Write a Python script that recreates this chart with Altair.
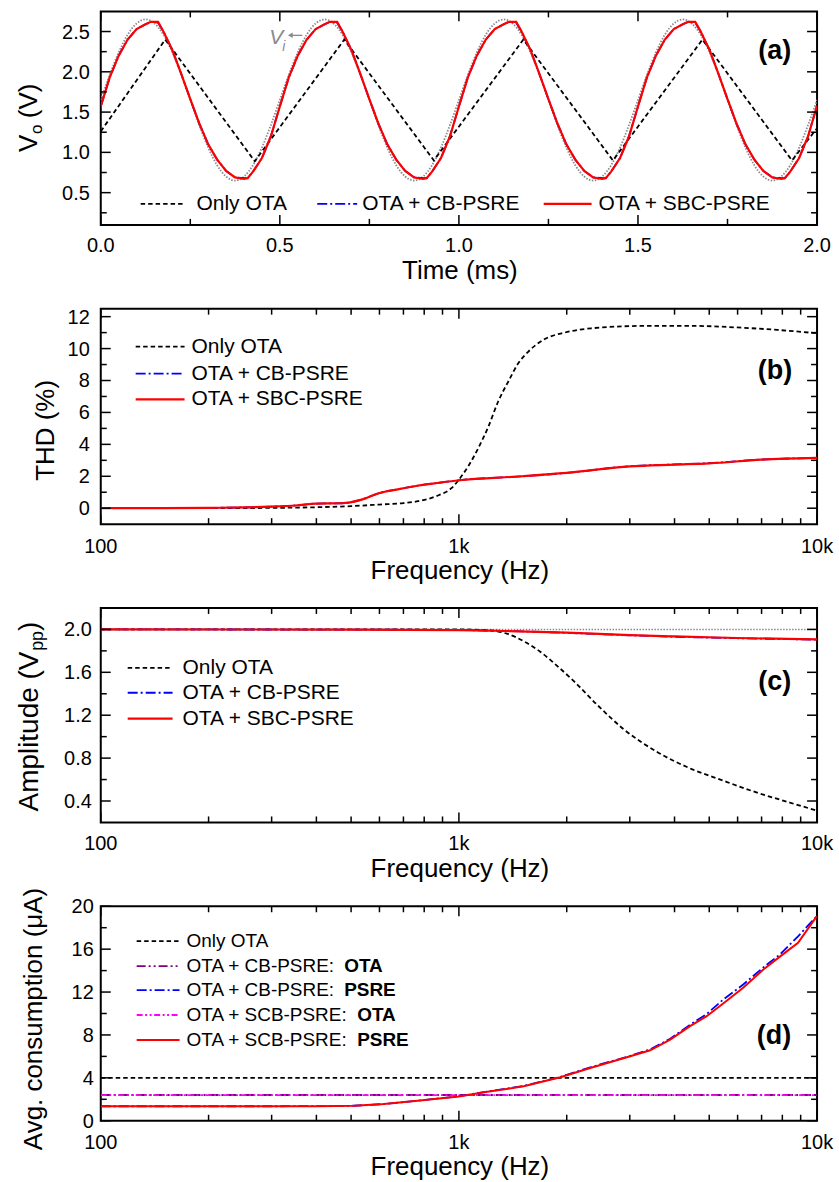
import altair as alt
import pandas as pd

FONT = "Liberation Sans"
W = 718
HA, HB, HC, HD = 214, 216, 215, 215

# ---------------- panel (a): transient, time in ms ----------------
vi_t = [0.000, 0.025, 0.050, 0.075, 0.100, 0.125, 0.150, 0.175, 0.200, 0.225,
        0.250, 0.275, 0.300, 0.325, 0.350, 0.375, 0.400, 0.425, 0.450, 0.475,
        0.500, 0.525, 0.550, 0.575, 0.600, 0.625, 0.650, 0.675, 0.700, 0.725,
        0.750, 0.775, 0.800, 0.825, 0.850, 0.875, 0.900, 0.925, 0.950, 0.975,
        1.000, 1.025, 1.050, 1.075, 1.100, 1.125, 1.150, 1.175, 1.200, 1.225,
        1.250, 1.275, 1.300, 1.325, 1.350, 1.375, 1.400, 1.425, 1.450, 1.475,
        1.500, 1.525, 1.550, 1.575, 1.600, 1.625, 1.650, 1.675, 1.700, 1.725,
        1.750, 1.775, 1.800, 1.825, 1.850, 1.875, 1.900, 1.925, 1.950, 1.975,
        2.000]
vi_v = [1.65, 1.96, 2.24, 2.46, 2.60, 2.65, 2.60, 2.46, 2.24, 1.96,
        1.65, 1.34, 1.06, 0.84, 0.70, 0.65, 0.70, 0.84, 1.06, 1.34,
        1.65, 1.96, 2.24, 2.46, 2.60, 2.65, 2.60, 2.46, 2.24, 1.96,
        1.65, 1.34, 1.06, 0.84, 0.70, 0.65, 0.70, 0.84, 1.06, 1.34,
        1.65, 1.96, 2.24, 2.46, 2.60, 2.65, 2.60, 2.46, 2.24, 1.96,
        1.65, 1.34, 1.06, 0.84, 0.70, 0.65, 0.70, 0.84, 1.06, 1.34,
        1.65, 1.96, 2.24, 2.46, 2.60, 2.65, 2.60, 2.46, 2.24, 1.96,
        1.65, 1.34, 1.06, 0.84, 0.70, 0.65, 0.70, 0.84, 1.06, 1.34,
        1.65]

ota_a_t = [0.00, 0.18, 0.43, 0.68, 0.93, 1.18, 1.43, 1.68, 1.93, 2.00]
ota_a_v = [1.26, 2.40, 0.89, 2.40, 0.90, 2.40, 0.90, 2.40, 0.90, 1.30]

sbc_a_t = [0.000, 0.025, 0.050, 0.075, 0.100, 0.125, 0.140, 0.160, 0.175, 0.200, 0.225,
           0.250, 0.275, 0.300, 0.325, 0.350, 0.375, 0.400, 0.410, 0.425, 0.450, 0.475,
           0.500, 0.525, 0.550, 0.575, 0.600, 0.625, 0.640, 0.660, 0.675, 0.700, 0.725,
           0.750, 0.775, 0.800, 0.825, 0.850, 0.875, 0.900, 0.910, 0.925, 0.950, 0.975,
           1.000, 1.025, 1.050, 1.075, 1.100, 1.125, 1.140, 1.160, 1.175, 1.200, 1.225,
           1.250, 1.275, 1.300, 1.325, 1.350, 1.375, 1.400, 1.410, 1.425, 1.450, 1.475,
           1.500, 1.525, 1.550, 1.575, 1.600, 1.625, 1.640, 1.660, 1.675, 1.700, 1.725,
           1.750, 1.775, 1.800, 1.825, 1.850, 1.875, 1.900, 1.910, 1.925, 1.950, 1.975,
           2.000]
sbc_a_v = [1.57, 1.93, 2.20, 2.40, 2.53, 2.59, 2.62, 2.62, 2.50, 2.27, 1.97,
           1.66, 1.36, 1.10, 0.91, 0.77, 0.69, 0.67, 0.68, 0.76, 0.93, 1.20,
           1.57, 1.93, 2.20, 2.40, 2.53, 2.59, 2.62, 2.62, 2.50, 2.27, 1.97,
           1.66, 1.36, 1.10, 0.91, 0.77, 0.69, 0.67, 0.68, 0.76, 0.93, 1.20,
           1.57, 1.93, 2.20, 2.40, 2.53, 2.59, 2.62, 2.62, 2.50, 2.27, 1.97,
           1.66, 1.36, 1.10, 0.91, 0.77, 0.69, 0.67, 0.68, 0.76, 0.93, 1.20,
           1.57, 1.93, 2.20, 2.40, 2.53, 2.59, 2.62, 2.62, 2.50, 2.27, 1.97,
           1.66, 1.36, 1.10, 0.91, 0.77, 0.69, 0.67, 0.68, 0.76, 0.93, 1.20,
           1.58]
cb_a_t = sbc_a_t
cb_a_v = [1.57, 1.93, 2.20, 2.40, 2.53, 2.59, 2.62, 2.61, 2.50, 2.27, 1.97,
          1.66, 1.36, 1.10, 0.91, 0.77, 0.69, 0.68, 0.68, 0.76, 0.93, 1.20,
          1.57, 1.93, 2.20, 2.40, 2.53, 2.59, 2.62, 2.61, 2.50, 2.27, 1.97,
          1.66, 1.36, 1.10, 0.91, 0.77, 0.69, 0.68, 0.68, 0.76, 0.93, 1.20,
          1.57, 1.93, 2.20, 2.40, 2.53, 2.59, 2.62, 2.61, 2.50, 2.27, 1.97,
          1.66, 1.36, 1.10, 0.91, 0.77, 0.69, 0.68, 0.68, 0.76, 0.93, 1.20,
          1.57, 1.93, 2.20, 2.40, 2.53, 2.59, 2.62, 2.61, 2.50, 2.27, 1.97,
          1.66, 1.36, 1.10, 0.91, 0.77, 0.69, 0.68, 0.68, 0.76, 0.93, 1.20,
          1.58]

# ---------------- panel (b): THD (%) vs frequency ----------------
ota_b_f = [100, 200, 300, 400, 500, 600, 700, 770, 877, 955, 1000, 1062, 1133, 1208,
           1288, 1374, 1465, 1561, 1738, 1974, 2339, 3294, 4540, 6252, 7742, 10000]
ota_b_thd = [0.0, 0.0, 0.02, 0.06, 0.13, 0.23, 0.32, 0.44, 0.81, 1.27, 1.79, 2.63, 3.77, 5.1,
             6.7, 7.94, 9.08, 9.8, 10.6, 11.0, 11.27, 11.42, 11.42, 11.3, 11.17, 10.96]
psre_b_f = [100, 150, 200, 250, 300, 350, 400, 470, 532, 597, 680, 771, 870, 1000,
            1500, 2000, 3000, 4000, 5000, 7000, 10000]
sbc_b_thd = [0.0, 0.0, 0.02, 0.05, 0.1, 0.17, 0.29, 0.31, 0.52, 0.94, 1.2, 1.42, 1.58, 1.75,
             2.0, 2.21, 2.62, 2.73, 2.81, 3.04, 3.15]
cb_b_thd = [0.0, 0.0, 0.02, 0.05, 0.1, 0.17, 0.29, 0.31, 0.52, 0.94, 1.2, 1.42, 1.58, 1.75,
            2.0, 2.21, 2.63, 2.74, 2.82, 3.05, 3.15]

# ---------------- panel (c): amplitude (Vpp) vs frequency ----------------
ref_c_f = [100, 10000]
ref_c_amp = [2.0, 2.0]
ota_c_f = [100, 500, 1000, 1225, 1361, 1517, 1690, 1880, 2090, 2427, 2883, 3566,
           4415, 5465, 6773, 8394, 10000]
ota_c_amp = [2.0, 2.0, 2.0, 1.99, 1.96, 1.89, 1.79, 1.66, 1.52, 1.30, 1.07, 0.86,
             0.705, 0.59, 0.48, 0.385, 0.31]
psre_c_f = [100, 500, 1000, 1365, 2000, 3006, 3971, 5957, 10000]
sbc_c_amp = [2.0, 1.998, 1.994, 1.985, 1.97, 1.947, 1.935, 1.92, 1.907]
cb_c_amp = [2.0, 1.998, 1.994, 1.985, 1.968, 1.945, 1.932, 1.918, 1.905]

# ---------------- panel (d): avg. consumption (uA) vs frequency ----------------
flat_d_f = [100, 10000]
ota_d_i = [4.0, 4.0]
cb_ota_d_i = [2.4, 2.4]
scb_ota_d_i = [2.38, 2.38]
psre_d_f = [100, 200, 300, 400, 510, 618, 766, 1000, 1175, 1517, 1919, 2327, 3009,
            3420, 3890, 4420, 4918, 5470, 6220, 7080, 7875, 8850, 10000]
scb_psre_d_i = [1.35, 1.35, 1.35, 1.36, 1.4, 1.56, 1.87, 2.27, 2.65, 3.21, 4.05, 4.92, 6.01,
                6.57, 7.57, 8.82, 9.75, 10.93, 12.4, 14.1, 15.3, 16.6, 19.1]
cb_psre_d_i = [1.35, 1.35, 1.35, 1.36, 1.4, 1.56, 1.87, 2.28, 2.67, 3.25, 4.08, 4.98, 6.05,
               6.65, 7.65, 8.95, 9.95, 11.3, 12.7, 14.3, 15.5, 17.2, 19.1]

# ---------------- ticks and tick labels ----------------
a_x_major = [0, 0.5, 1.0, 1.5, 2.0]
a_x_labels = ["0.0", "0.5", "1.0", "1.5", "2.0"]
a_x_minor = [0.25, 0.75, 1.25, 1.75]
a_y_major = [0.5, 1.0, 1.5, 2.0, 2.5]
a_y_labels = ["0.5", "1.0", "1.5", "2.0", "2.5"]
a_y_minor = [0.25, 0.75, 1.25, 1.75, 2.25]
log_major = [100, 1000, 10000]
log_labels = ["100", "1k", "10k"]
log_minor = [200, 300, 400, 500, 600, 700, 800, 900,
             2000, 3000, 4000, 5000, 6000, 7000, 8000, 9000]
b_y_major = [0, 2, 4, 6, 8, 10, 12]
b_y_labels = ["0", "2", "4", "6", "8", "10", "12"]
b_y_minor = [1, 3, 5, 7, 9, 11]
c_y_major = [0.4, 0.8, 1.2, 1.6, 2.0]
c_y_labels = ["0.4", "0.8", "1.2", "1.6", "2.0"]
c_y_minor = [0.6, 1.0, 1.4, 1.8]
d_y_major = [0, 4, 8, 12, 16, 20]
d_y_labels = ["0", "4", "8", "12", "16", "20"]
d_y_minor = [2, 6, 10, 14, 18]

BLACK, BLUE, RED = "#000000", "#0000ff", "#ff0000"
PURPLE, MAGENTA, GRAY = "#800080", "#ff00ff", "#8a8a8a"
DASH = [4.5, 3]
DASHDOT = [10, 3, 2, 3]
DASHDOTDOT = [9, 3, 2, 3, 2, 3]
DASHDOTDOT2 = [6, 2.5, 2, 2.5, 2, 2.5]
DOT = [1.5, 1.5]

MAJ, MIN = 10, 6
LABEL_SIZE = 20


def line(xv, yv, xs, ys, color, width, dash=None, interp="linear"):
    df = pd.DataFrame({"x": xv, "y": yv})
    kw = dict(color=color, strokeWidth=width, interpolate=interp, clip=True)
    if dash is not None:
        kw["strokeDash"] = dash
    return alt.Chart(df).mark_line(**kw).encode(
        x=alt.X("x:Q", scale=xs, axis=None),
        y=alt.Y("y:Q", scale=ys, axis=None))


def xticks(vals, xs, H, L):
    base = alt.Chart(pd.DataFrame({"x": vals})).mark_rule(color="black", strokeWidth=1.5)
    xe = alt.X("x:Q", scale=xs, axis=None)
    return [base.encode(x=xe, y=alt.value(H), y2=alt.value(H - L)),
            base.encode(x=xe, y=alt.value(0), y2=alt.value(L))]


def yticks(vals, ys, L):
    base = alt.Chart(pd.DataFrame({"y": vals})).mark_rule(color="black", strokeWidth=1.5)
    ye = alt.Y("y:Q", scale=ys, axis=None)
    return [base.encode(y=ye, x=alt.value(0), x2=alt.value(L)),
            base.encode(y=ye, x=alt.value(W), x2=alt.value(W - L))]


def xlabels(vals, labs, xs, ypos):
    df = pd.DataFrame({"x": vals, "lab": labs})
    return alt.Chart(df).mark_text(font=FONT, fontSize=LABEL_SIZE, align="center",
                                   baseline="alphabetic", color="black").encode(
        x=alt.X("x:Q", scale=xs, axis=None), y=alt.value(ypos), text="lab:N")


def ylabels(vals, labs, ys, xpos):
    df = pd.DataFrame({"y": vals, "lab": labs})
    return alt.Chart(df).mark_text(font=FONT, fontSize=LABEL_SIZE, align="right",
                                   baseline="alphabetic", dy=7, color="black").encode(
        y=alt.Y("y:Q", scale=ys, axis=None), x=alt.value(xpos), text="lab:N")


def txt(s, x, y, size, align="left", baseline="middle", weight="normal", angle=0,
        color="black", style="normal"):
    return alt.Chart(alt.Data(values=[{}])).mark_text(
        text=s, font=FONT, fontSize=size, align=align, baseline=baseline,
        fontWeight=weight, angle=angle, color=color, fontStyle=style
    ).encode(x=alt.value(x), y=alt.value(y))


def seg(x0, x1, y, color, width, dash=None):
    kw = dict(color=color, strokeWidth=width)
    if dash is not None:
        kw["strokeDash"] = dash
    return alt.Chart(alt.Data(values=[{}])).mark_rule(**kw).encode(
        x=alt.value(x0), x2=alt.value(x1), y=alt.value(y))


# ====================== panel (a) ======================
xs_a = alt.Scale(domain=[0, 2], nice=False, zero=False)
ys_a = alt.Scale(domain=[0.1, 2.75], nice=False, zero=False)
layers_a = [
    line(vi_t, vi_v, xs_a, ys_a, GRAY, 1.8, DOT, "monotone"),
    line(ota_a_t, ota_a_v, xs_a, ys_a, BLACK, 1.8, DASH),
    line(cb_a_t, cb_a_v, xs_a, ys_a, BLUE, 1.8, DASHDOT),
    line(sbc_a_t, sbc_a_v, xs_a, ys_a, RED, 2.2),
]
layers_a += xticks(a_x_major, xs_a, HA, MAJ) + xticks(a_x_minor, xs_a, HA, MIN)
layers_a += yticks(a_y_major, ys_a, MAJ) + yticks(a_y_minor, ys_a, MIN)
layers_a += [
    xlabels(a_x_major, a_x_labels, xs_a, HA + 27),
    ylabels(a_y_major, a_y_labels, ys_a, -11),
    seg(40, 84, 193, BLACK, 1.8, DASH), txt("Only OTA", 96, 193, 21),
    seg(217, 257, 193, BLUE, 1.8, DASHDOT), txt("OTA + CB-PSRE", 262, 193, 21),
    seg(444, 492, 193, RED, 2.2), txt("OTA + SBC-PSRE", 499, 193, 21),
    txt("(a)", W - 26, 48, 27, align="right", baseline="alphabetic", weight="bold"),
    txt("V", 169, 33, 21, baseline="alphabetic", color=GRAY, style="italic"),
    txt("i", 182, 40, 14, baseline="alphabetic", color=GRAY, style="italic"),
    seg(190, 202, 24, GRAY, 1.3),
    alt.Chart(alt.Data(values=[{}])).mark_point(shape="triangle-left", filled=True, color=GRAY,
                                                size=30, opacity=1).encode(
        x=alt.value(190), y=alt.value(24)),
    txt("Time (ms)", 360, HA + 54, 26, align="center", baseline="alphabetic"),
    txt("V", -64, 141, 26, baseline="alphabetic", angle=270),
    txt("o", -59, 123, 17, baseline="alphabetic", angle=270),
    txt("(V)", -64, 107, 26, baseline="alphabetic", angle=270),
]
pa = alt.layer(*layers_a).properties(width=W, height=HA)

# ====================== panel (b) ======================
xs_f = alt.Scale(type="log", domain=[100, 10000], nice=False)
ys_b = alt.Scale(domain=[-1, 12.5], nice=False, zero=False)
layers_b = [
    line(ota_b_f, ota_b_thd, xs_f, ys_b, BLACK, 1.8, DASH, "monotone"),
    line(psre_b_f, cb_b_thd, xs_f, ys_b, BLUE, 1.8, DASHDOT, "monotone"),
    line(psre_b_f, sbc_b_thd, xs_f, ys_b, RED, 2.2, None, "monotone"),
]
layers_b += xticks(log_major, xs_f, HB, MAJ) + xticks(log_minor, xs_f, HB, MIN)
layers_b += yticks(b_y_major, ys_b, MAJ) + yticks(b_y_minor, ys_b, MIN)
layers_b += [
    xlabels(log_major, log_labels, xs_f, HB + 29),
    ylabels(b_y_major, b_y_labels, ys_b, -11),
    seg(35, 84, 38, BLACK, 1.8, DASH), txt("Only OTA", 91, 38, 21),
    seg(35, 84, 65, BLUE, 1.8, DASHDOT), txt("OTA + CB-PSRE", 91, 65, 21),
    seg(35, 84, 91, RED, 2.2), txt("OTA + SBC-PSRE", 91, 91, 21),
    txt("(b)", W - 25, 70, 27, align="right", baseline="alphabetic", weight="bold"),
    txt("Frequency (Hz)", 360, HB + 55, 26, align="center", baseline="alphabetic"),
    txt("THD (%)", -47, 122, 26, align="center", baseline="alphabetic", angle=270),
]
pb = alt.layer(*layers_b).properties(width=W, height=HB)

# ====================== panel (c) ======================
ys_c = alt.Scale(domain=[0.2, 2.2], nice=False, zero=False)
layers_c = [
    line(ref_c_f, ref_c_amp, xs_f, ys_c, GRAY, 1.5, DOT),
    line(ota_c_f, ota_c_amp, xs_f, ys_c, BLACK, 1.8, DASH, "monotone"),
    line(psre_c_f, cb_c_amp, xs_f, ys_c, BLUE, 1.8, DASHDOT, "monotone"),
    line(psre_c_f, sbc_c_amp, xs_f, ys_c, RED, 2.2, None, "monotone"),
]
layers_c += xticks(log_major, xs_f, HC, MAJ) + xticks(log_minor, xs_f, HC, MIN)
layers_c += yticks(c_y_major, ys_c, MAJ) + yticks(c_y_minor, ys_c, MIN)
layers_c += [
    xlabels(log_major, log_labels, xs_f, HC + 28),
    ylabels(c_y_major, c_y_labels, ys_c, -9),
    seg(27, 72, 60, BLACK, 1.8, DASH), txt("Only OTA", 82, 60, 21),
    seg(27, 72, 85, BLUE, 1.8, DASHDOT), txt("OTA + CB-PSRE", 82, 85, 21),
    seg(27, 72, 111, RED, 2.2), txt("OTA + SBC-PSRE", 82, 111, 21),
    txt("(c)", W - 26, 82, 27, align="right", baseline="alphabetic", weight="bold"),
    txt("Frequency (Hz)", 360, HC + 55, 26, align="center", baseline="alphabetic"),
    txt("Amplitude (V", -63, 204, 28, baseline="alphabetic", angle=270),
    txt("pp", -58, 43, 18, baseline="alphabetic", angle=270),
    txt(")", -63, 23, 28, baseline="alphabetic", angle=270),
]
pc = alt.layer(*layers_c).properties(width=W, height=HC)

# ====================== panel (d) ======================
ys_d = alt.Scale(domain=[0, 20], nice=False, zero=False)
layers_d = [
    line(flat_d_f, ota_d_i, xs_f, ys_d, BLACK, 1.8, DASH),
    line(flat_d_f, cb_ota_d_i, xs_f, ys_d, PURPLE, 1.8, DASHDOT),
    line(flat_d_f, scb_ota_d_i, xs_f, ys_d, MAGENTA, 1.8, DASHDOTDOT2),
    line(psre_d_f, cb_psre_d_i, xs_f, ys_d, BLUE, 1.8, DASHDOT),
    line(psre_d_f, scb_psre_d_i, xs_f, ys_d, RED, 2.0),
]
layers_d += xticks(log_major, xs_f, HD, MAJ) + xticks(log_minor, xs_f, HD, MIN)
layers_d += yticks(d_y_major, ys_d, MAJ) + yticks(d_y_minor, ys_d, MIN)
layers_d += [
    xlabels(log_major, log_labels, xs_f, HD + 28),
    ylabels(d_y_major, d_y_labels, ys_d, -7),
    seg(36, 79, 35, BLACK, 1.8, DASH), txt("Only OTA", 86, 35, 19),
    seg(36, 79, 60, PURPLE, 1.8, DASHDOTDOT), txt("OTA + CB-PSRE:", 86, 60, 19),
    txt("OTA", 244, 60, 19, weight="bold"),
    seg(36, 79, 84, BLUE, 1.8, DASHDOT), txt("OTA + CB-PSRE:", 86, 84, 19),
    txt("PSRE", 244, 84, 19, weight="bold"),
    seg(36, 79, 109, MAGENTA, 1.8, DASHDOTDOT2), txt("OTA + SCB-PSRE:", 86, 109, 19),
    txt("OTA", 257, 109, 19, weight="bold"),
    seg(36, 79, 134, RED, 2.0), txt("OTA + SCB-PSRE:", 86, 134, 19),
    txt("PSRE", 257, 134, 19, weight="bold"),
    txt("(d)", W - 26, 138, 27, align="right", baseline="alphabetic", weight="bold"),
    txt("Frequency (Hz)", 360, HD + 54, 26, align="center", baseline="alphabetic"),
    txt("Avg. consumption (\u03bcA)", -59, 113, 26, align="center", baseline="alphabetic",
        angle=270),
]
pd_ = alt.layer(*layers_d).properties(width=W, height=HD)

chart = alt.vconcat(pa, pb, pc, pd_, spacing=84, bounds="flush").configure_view(
    stroke="black", strokeWidth=2
).properties(padding={"left": 14, "top": 8, "right": 4, "bottom": 4})

chart.save("out.html", embed_options={"renderer": "svg", "actions": False})
